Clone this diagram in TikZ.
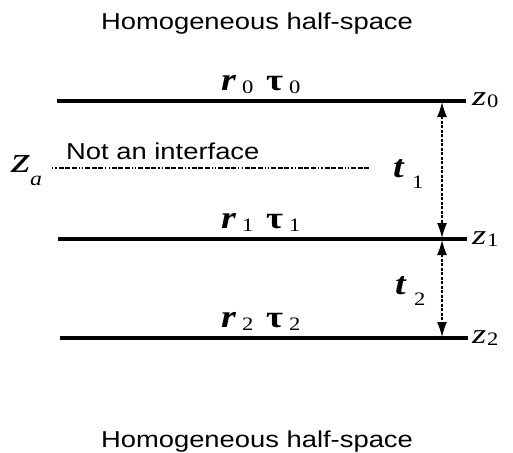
\documentclass[tikz,border=0pt]{standalone}
\usepackage{graphicx}
\usepackage{fontspec}
\setmainfont{Liberation Sans}
\newfontfamily\sfont{Liberation Serif}
\usetikzlibrary{arrows.meta}
\newcommand{\sx}[2][1.19]{\scalebox{#1}[1]{#2}}
% main letter, x offset of subscript, drop, subscript
\newcommand{\lab}[4]{\rlap{#1}\hspace*{#2}\raisebox{-#3}{#4}}
\newcommand{\bi}[1]{\sx{\sfont\fontsize{32}{34}\selectfont\bfseries\itshape #1}}
\newcommand{\bt}[1]{\sx{\sfont\fontsize{31}{33}\selectfont\bfseries #1}}
\newcommand{\zz}[1]{\sx[1.3]{\sfont\fontsize{28}{30}\selectfont\itshape #1}}
\newcommand{\za}[1]{\sx[1.35]{\sfont\fontsize{37}{39}\selectfont\itshape #1}}
\newcommand{\sub}[1]{\sx{\sfont\fontsize{19}{21}\selectfont #1}}
\newcommand{\subi}[1]{\sx{\sfont\fontsize{20}{22}\selectfont\itshape #1}}
\begin{document}
\begin{tikzpicture}[x=1pt,y=-1pt,
  iface/.style={line width=3.2pt},
  ghost/.style={line width=2.8pt,dash pattern=on 1.2pt off 2.2pt on 1.2pt off 2pt on 5pt off 1.4pt on 5pt off 1.6pt on 5pt off 2pt},
  dimarrow/.style={line width=1.3pt,dash pattern=on 3pt off 1.5pt,{Latex[length=15pt,width=10pt]}-{Latex[length=15pt,width=10pt]}},
  lbl/.style={inner sep=0pt,font=\fontsize{23}{25}\selectfont},
  mlbl/.style={inner sep=0pt,anchor=base west}]
\useasboundingbox (0,0) rectangle (513,452);
\node[lbl,anchor=base] (top) at (257,30) {\sx{Homogeneous half-space}};
\node[lbl,anchor=base] (bot) at (257,447) {\sx{Homogeneous half-space}};
\coordinate (l0a) at (57,101); \coordinate (l0b) at (466,101);
\coordinate (l1a) at (58,239); \coordinate (l1b) at (467,239);
\coordinate (l2a) at (60,338); \coordinate (l2b) at (468,338);
\draw[iface] (l0a) -- (l0b);
\draw[iface] (l1a) -- (l1b);
\draw[iface] (l2a) -- (l2b);
\coordinate (ga) at (52,168); \coordinate (gb) at (370,168);
\draw[ghost] (ga) -- (gb);
\node[lbl,anchor=base west] (nai) at (66,159) {\sx{Not an interface}};
\coordinate (a0) at (442,102); \coordinate (a1) at (442,238);
\coordinate (a1b) at (442,240); \coordinate (a2) at (442,337);
\draw[dimarrow] (a0) -- (a1);
\draw[dimarrow] (a1b) -- (a2);
\node[mlbl] (z0) at (472,105) {\lab{\zz{z}}{15pt}{2pt}{\sub{0}}};
\node[mlbl] (z1) at (472,244) {\lab{\zz{z}}{15pt}{2pt}{\sub{1}}};
\node[mlbl] (z2) at (472,343) {\lab{\zz{z}}{15pt}{2pt}{\sub{2}}};
\node[mlbl] (za) at (11,172) {\lab{\za{z}}{19pt}{13pt}{\subi{a}}};
\node[mlbl] (t1) at (393,177) {\lab{\bi{t}}{19pt}{11pt}{\sub{1}}};
\node[mlbl] (t2) at (395,294) {\lab{\bi{t}}{19pt}{11pt}{\sub{2}}};
\node[mlbl] (r0) at (221,90) {\lab{\bi{r}}{21pt}{3pt}{\sub{0}}};
\node[mlbl] (tau0) at (266,90) {\lab{\bt{τ}}{23pt}{3pt}{\sub{0}}};
\node[mlbl] (r1) at (221,228) {\lab{\bi{r}}{21pt}{3pt}{\sub{1}}};
\node[mlbl] (tau1) at (266,228) {\lab{\bt{τ}}{23pt}{3pt}{\sub{1}}};
\node[mlbl] (r2) at (221,327) {\lab{\bi{r}}{21pt}{3pt}{\sub{2}}};
\node[mlbl] (tau2) at (266,327) {\lab{\bt{τ}}{23pt}{3pt}{\sub{2}}};
\end{tikzpicture}
\end{document}
